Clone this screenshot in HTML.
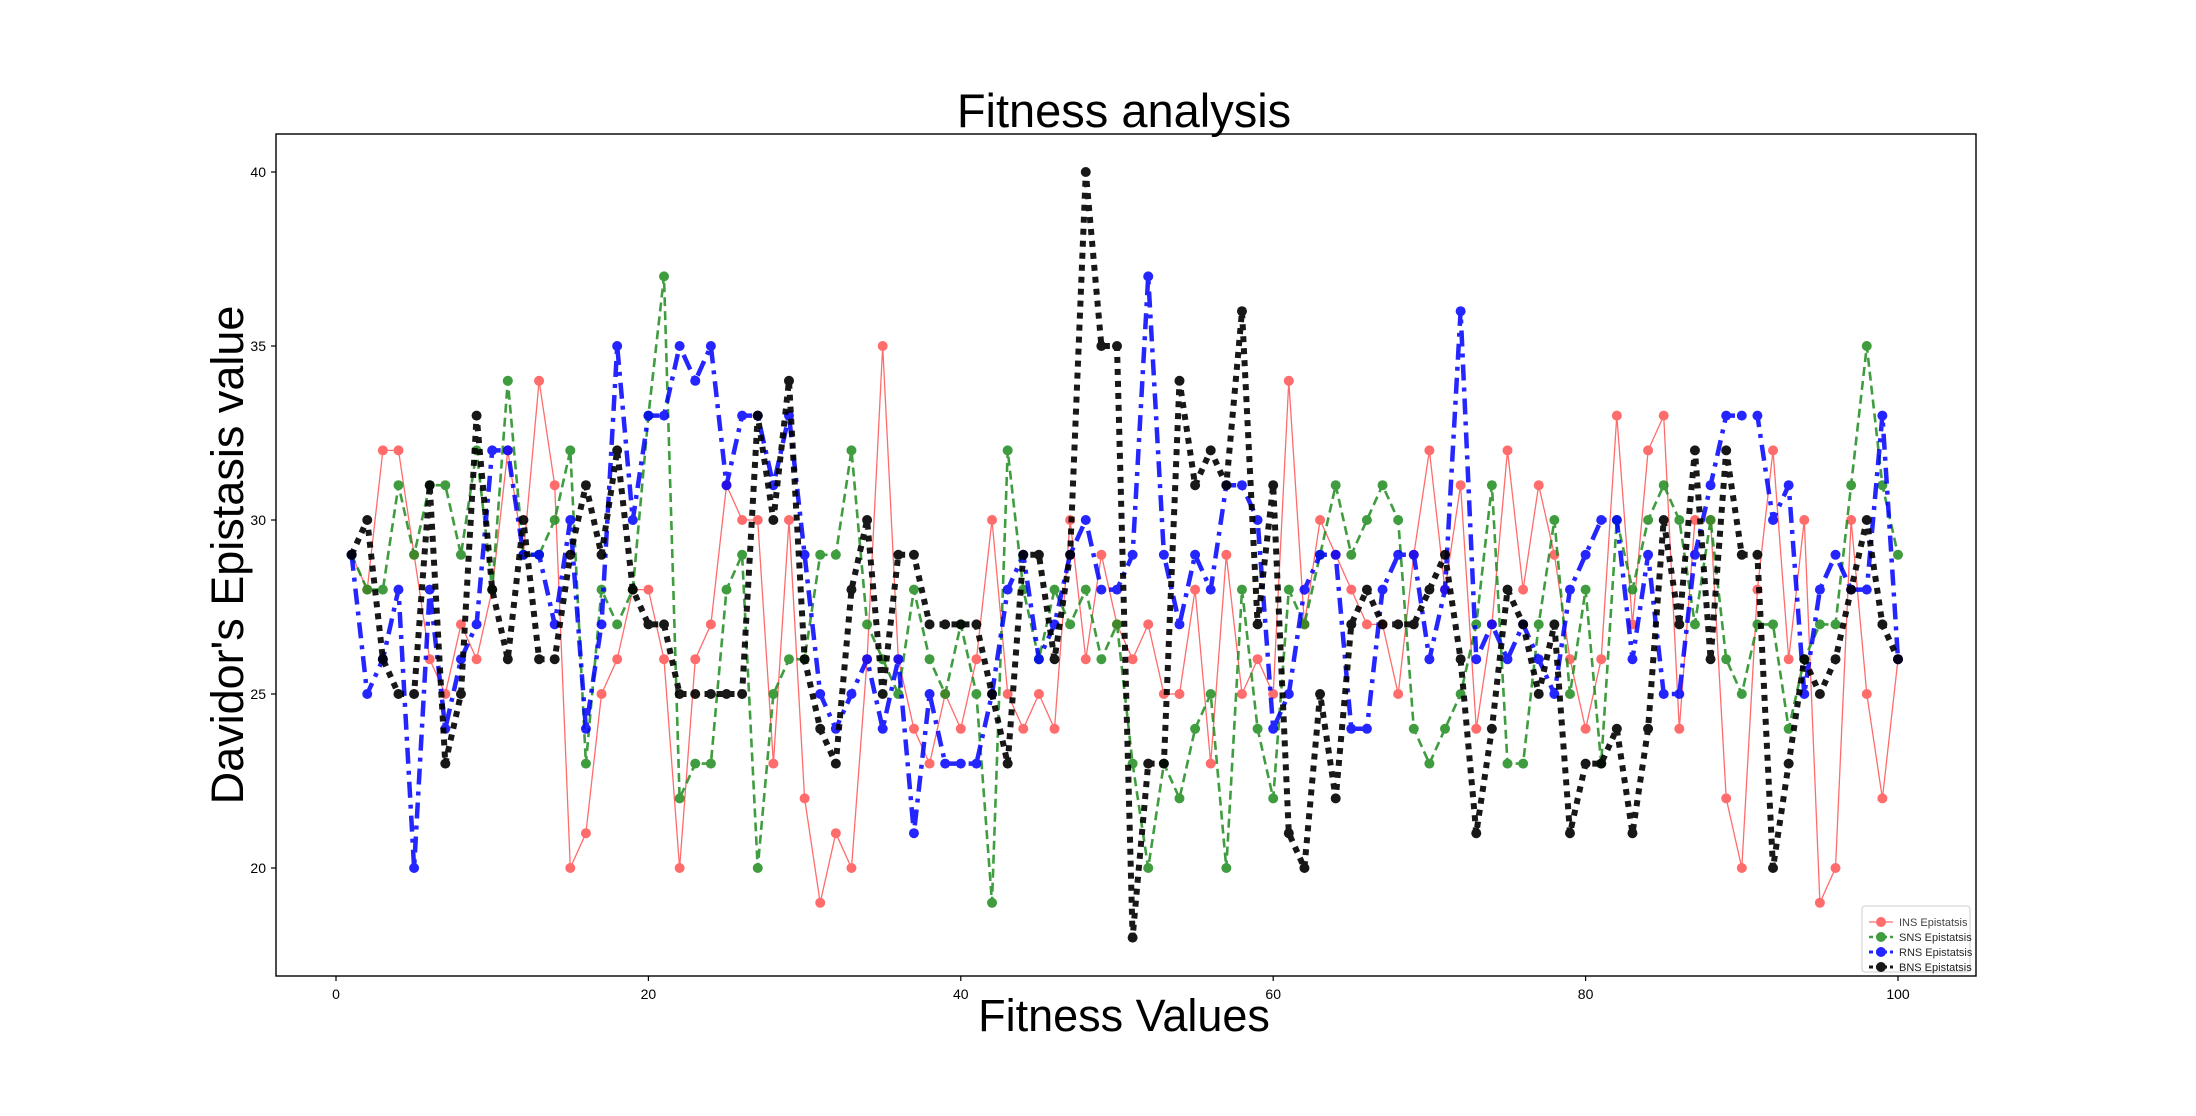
<!DOCTYPE html>
<html><head><meta charset="utf-8"><style>
html,body{margin:0;padding:0;background:#fff;}
svg{display:block;font-family:"Liberation Sans","DejaVu Sans",sans-serif;}
</style></head><body>
<svg id="chart" width="2196" height="1116" viewBox="0 0 2196 1116">
<rect x="0" y="0" width="2196" height="1116" fill="#fff"/>
<text x="1124" y="127" text-anchor="middle" font-size="47">Fitness analysis</text>
<text x="1124" y="1031" text-anchor="middle" font-size="45">Fitness Values</text>
<text transform="translate(243,555) rotate(-90)" text-anchor="middle" font-size="45">Davidor's Epistasis value</text>
<g id="ticks"></g>
<g id="series"></g>
<rect x="276" y="134" width="1700" height="842" fill="none" stroke="#000" stroke-width="1.4"/>
<g id="legend"></g>
</svg>
<script>
const xTicks = [0,20,40,60,80,100];
const yTicks = [20,25,30,35,40];
const seriesNames = ["INS Epistatsis","SNS Epistatsis","RNS Epistatsis","BNS Epistatsis"];
const insValues = [29,28,32,32,29,26,25,27,26,28,32,29,34,31,20,21,25,26,28,28,26,20,26,27,31,30,30,23,30,22,19,21,20,26,35,26,24,23,25,24,26,30,25,24,25,24,30,26,29,27,26,27,25,25,28,23,29,25,26,25,34,27,30,29,28,27,27,25,29,32,28,31,24,27,32,28,31,29,26,24,26,33,27,32,33,24,30,30,22,20,28,32,26,30,19,20,30,25,22,26];
const snsValues = [29,28,28,31,29,31,31,29,32,28,34,29,29,30,32,23,28,27,28,33,37,22,23,23,28,29,20,25,26,26,29,29,32,27,26,25,28,26,25,27,25,19,32,28,26,28,27,28,26,27,23,20,23,22,24,25,20,28,24,22,28,27,29,31,29,30,31,30,24,23,24,25,27,31,23,23,27,30,25,28,23,30,28,30,31,30,27,30,26,25,27,27,24,26,27,27,31,35,31,29];
const rnsValues = [29,25,26,28,20,28,24,26,27,32,32,29,29,27,30,24,27,35,30,33,33,35,34,35,31,33,33,31,33,29,25,24,25,26,24,26,21,25,23,23,23,25,28,29,26,27,29,30,28,28,29,37,29,27,29,28,31,31,30,24,25,28,29,29,24,24,28,29,29,26,28,36,26,27,26,27,26,25,28,29,30,30,26,29,25,25,29,31,33,33,33,30,31,25,28,29,28,28,33,26];
const bnsValues = [29,30,26,25,25,31,23,25,33,28,26,30,26,26,29,31,29,32,28,27,27,25,25,25,25,25,33,30,34,26,24,23,28,30,25,29,29,27,27,27,27,25,23,29,29,26,29,40,35,35,18,23,23,34,31,32,31,36,27,31,21,20,25,22,27,28,27,27,27,28,29,26,21,24,28,27,25,27,21,23,23,24,21,24,30,27,32,26,32,29,29,20,23,26,25,26,28,30,27,26];

const NS="http://www.w3.org/2000/svg";
function xs(v){return 336+(v-0)*(1898-336)/100;}
function ys(v){return 868-(v-20)*(868-172)/20;}
function mk(tag,attrs){const e=document.createElementNS(NS,tag);for(const k in attrs)e.setAttribute(k,attrs[k]);return e;}

const tg=document.getElementById('ticks');
xTicks.forEach(t=>{
  const l=mk('line',{x1:xs(t),x2:xs(t),y1:976,y2:981,stroke:'#000','stroke-width':1.2});
  
  
  tg.appendChild(l);
  const tx=mk('text',{x:xs(t),y:999,'text-anchor':'middle','font-size':14});
  tx.textContent=t;
  
  
  tg.appendChild(tx);
});
yTicks.forEach(t=>{
  const l=mk('line',{x1:271,x2:276,y1:ys(t),y2:ys(t),stroke:'#000','stroke-width':1.2});
  
  
  tg.appendChild(l);
  const tx=mk('text',{x:266,y:ys(t)+5,'text-anchor':'end','font-size':14});
  tx.textContent=t;
  
  
  tg.appendChild(tx);
});

const styles=[
  {vals:insValues,color:'#ff3b3b',w:1.3,dash:'',op:0.75,name:'ins-series'},
  {vals:snsValues,color:'#1e8c1e',w:2.6,dash:'9,5',op:0.85,name:'sns-series'},
  {vals:rnsValues,color:'#0000ff',w:4.5,dash:'16,7,4,7',op:0.85,name:'rns-series'},
  {vals:bnsValues,color:'#000',w:6,dash:'6,6',op:0.9,name:'bns-series'}
];
const sg=document.getElementById('series');
styles.forEach(s=>{
  const g=mk('g',{opacity:s.op});
  
  
  const pts=s.vals.map((v,i)=>xs(i+1).toFixed(1)+','+ys(v).toFixed(1)).join(' ');
  const pl=mk('polyline',{points:pts,fill:'none',stroke:s.color,'stroke-width':s.w,'stroke-dasharray':s.dash,'stroke-linejoin':'round'});
  
  
  g.appendChild(pl);
  s.vals.forEach((v,i)=>{
    const c=mk('circle',{cx:xs(i+1),cy:ys(v),r:5,fill:s.color});
    
    
    g.appendChild(c);
  });
  sg.appendChild(g);
});

const lg=document.getElementById('legend');
const box=mk('rect',{x:1862,y:906,width:108,height:66,fill:'#fff',stroke:'#ccc','stroke-width':1,rx:3});


lg.appendChild(box);
styles.forEach((s,i)=>{
  const y=922+i*15;
  const g=mk('g',{opacity:s.op});
  
  
  g.appendChild(mk('line',{x1:1869,x2:1893,y1:y,y2:y,stroke:s.color,'stroke-width':Math.min(s.w,3),'stroke-dasharray':s.dash?'4,3':''}));
  g.appendChild(mk('circle',{cx:1881,cy:y,r:5,fill:s.color}));
  const t=mk('text',{x:1899,y:y+4,'font-size':11,fill:'#000'});
  t.textContent=seriesNames[i];
  g.appendChild(t);
  lg.appendChild(g);
});
</script>
</body></html>
